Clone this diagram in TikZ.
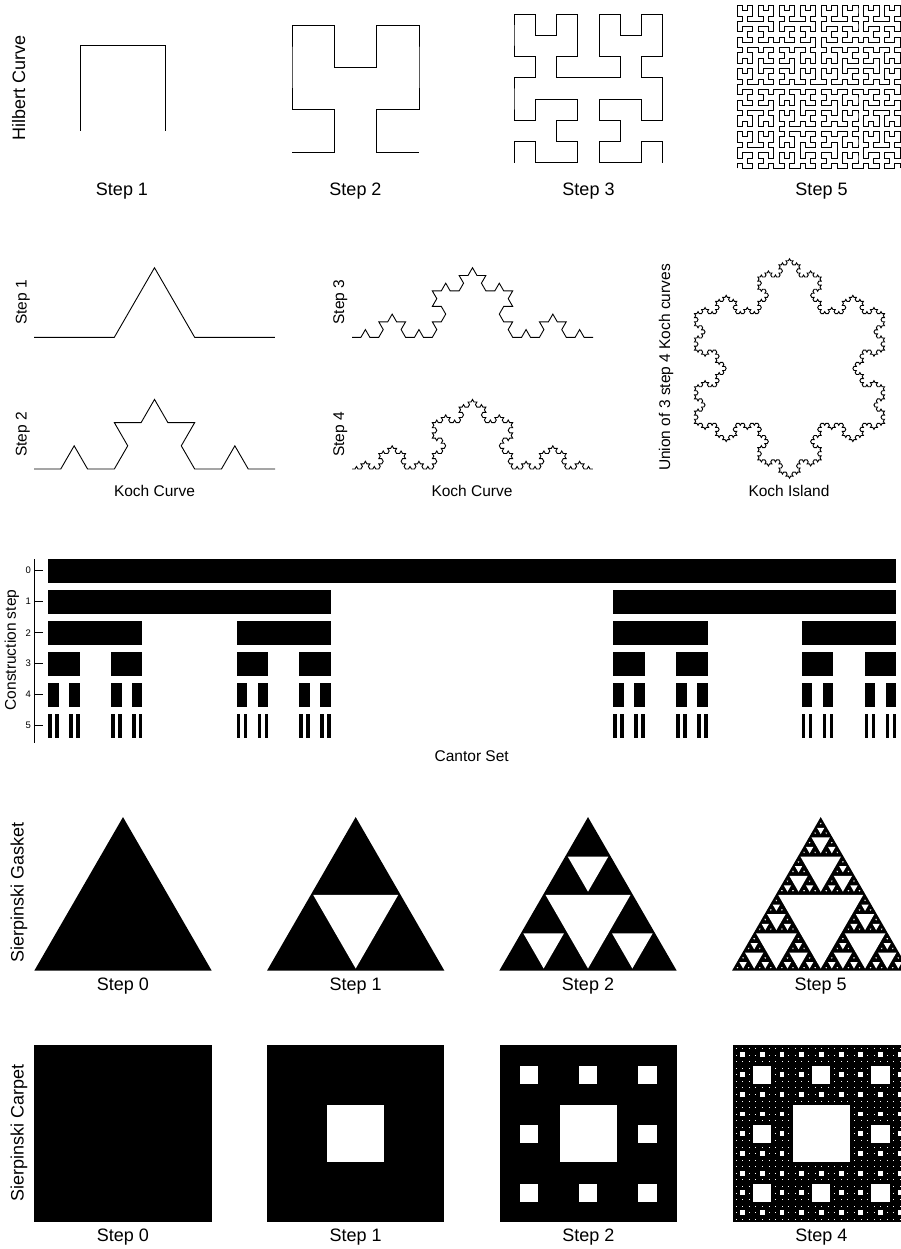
\documentclass[tikz,border=0pt]{standalone}
\usepackage{fontspec}
\setmainfont{Liberation Sans}
\usetikzlibrary{lindenmayersystems}
\pgfdeclarelindenmayersystem{Hilbert}{
  \rule{L -> +RF-LFL-FR+}
  \rule{R -> -LF+RFR+FL-}}
\pgfdeclarelindenmayersystem{KochC}{
  \rule{F -> F+F--F+F}}
\newcommand\cantorbar[3]{%
  \pgfmathsetmacro\cy{559.3+31*#1}%
  \fill (#2,\cy) rectangle ++(#3,24);%
  \ifnum#1<5\relax
    \pgfmathsetmacro\cw{#3/3}%
    \pgfmathsetmacro\cx{#2+2*#3/3}%
    \edef\cnext{\noexpand\cantorbar{\the\numexpr#1+1\relax}{#2}{\cw}\noexpand\cantorbar{\the\numexpr#1+1\relax}{\cx}{\cw}}%
    \cnext
  \fi}
% white hole of a gasket, shrunk toward its centroid by an inset of 1.1
\newcommand\gasketholes[4]{% level, x, ybase, s
  \ifnum#1>0\relax
    \pgfmathsetmacro\ga{#2+#4/4}%
    \pgfmathsetmacro\gb{#2+3*#4/4}%
    \pgfmathsetmacro\gc{#2+#4/2}%
    \pgfmathsetmacro\gy{#3-0.4330127*#4}%
    \pgfmathsetmacro\gs{#4/2}%
    \pgfmathsetmacro\gyc{(2*\gy+#3)/3}%
    \pgfmathsetmacro\gk{1-1.1*3.4641/\gs}%
    \ifdim\gk pt>0pt
      \fill[white, scale around={\gk:(\gc,\gyc)}] (\ga,\gy) -- (\gb,\gy) -- (\gc,#3) -- cycle;%
    \fi
    \edef\gnext{\noexpand\gasketholes{\the\numexpr#1-1\relax}{#2}{#3}{\gs}%
      \noexpand\gasketholes{\the\numexpr#1-1\relax}{\gc}{#3}{\gs}%
      \noexpand\gasketholes{\the\numexpr#1-1\relax}{\ga}{\gy}{\gs}}%
    \gnext
  \fi}
% white hole of a carpet, inset by 0.8
\newcommand\carpetholes[4]{% level, x, ytop, s
  \ifnum#1>0\relax
    \pgfmathsetmacro\ct{#4/3}%
    \pgfmathsetmacro\chw{\ct-1.6}%
    \ifdim\chw pt>0pt
      \fill[white] (#2+\ct+0.8,#3+\ct+0.8) rectangle ++(\chw,\chw);%
    \fi
    \ifnum#1>1\relax
      \foreach \ci/\cj in {0/0,1/0,2/0,0/1,2/1,0/2,1/2,2/2}{%
        \pgfmathsetmacro\cxx{#2+\ci*\ct}%
        \pgfmathsetmacro\cyy{#3+\cj*\ct}%
        \edef\cnextc{\noexpand\carpetholes{\the\numexpr#1-1\relax}{\cxx}{\cyy}{\ct}}%
        \cnextc
      }%
    \fi
  \fi}
\begin{document}
\begin{tikzpicture}[x=1pt,y=-1pt,
  lbl/.style={font=\fontsize{18}{20}\selectfont, inner sep=0pt, anchor=base},
  slbl/.style={font=\fontsize{15.5}{18}\selectfont, inner sep=0pt, anchor=base},
  tlbl/.style={font=\fontsize{9.5}{11}\selectfont, inner sep=0pt},
  curve/.style={line width=0.9pt, line join=miter}]
\useasboundingbox (0,0) rectangle (901,1249);
\fill[white] (0,0) rectangle (901,1249);
\clip (0,0) rectangle (901,1249);

% ---------------- Hilbert ----------------
\node[lbl, rotate=90] (hilT) at (25,87.5) {Hilbert Curve};
\begin{scope}[shift={(80,131)}]
\draw[curve, lindenmayer system={Hilbert, axiom=L, order=1, step=85.5pt, angle=90}] (0,0) lindenmayer system;
\end{scope}
\begin{scope}[shift={(292,152)}]
\draw[curve, lindenmayer system={Hilbert, axiom=L, order=2, step=42.33pt, angle=90}] (0,0) lindenmayer system;
\end{scope}
\begin{scope}[shift={(514,162.7)}]
\draw[curve, lindenmayer system={Hilbert, axiom=L, order=3, step=21.24pt, angle=90}] (0,0) lindenmayer system;
\end{scope}
\begin{scope}[shift={(737,168.5)}]
\draw[curve, line width=0.9pt, lindenmayer system={Hilbert, axiom=L, order=5, step=5.26pt, angle=90}] (0,0) lindenmayer system;
\end{scope}
\node[lbl] (hs1) at (122,195.7) {Step 1};
\node[lbl] (hs2) at (355.5,195.7) {Step 2};
\node[lbl] (hs3) at (588.5,195.7) {Step 3};
\node[lbl] (hs5) at (821.5,195.7) {Step 5};

% ---------------- Koch ----------------
\begin{scope}[shift={(34,337.3)}]
\draw[curve, lindenmayer system={KochC, axiom=F, order=1, step=80.33pt, angle=60}] (0,0) lindenmayer system;
\end{scope}
\begin{scope}[shift={(34,469)}]
\draw[curve, lindenmayer system={KochC, axiom=F, order=2, step=26.78pt, angle=60}] (0,0) lindenmayer system;
\end{scope}
\begin{scope}[shift={(352,337.3)}]
\draw[curve, lindenmayer system={KochC, axiom=F, order=3, step=8.926pt, angle=60}] (0,0) lindenmayer system;
\end{scope}
\begin{scope}[shift={(352,469)}]
\draw[curve, lindenmayer system={KochC, axiom=F, order=4, step=2.975pt, angle=60}] (0,0) lindenmayer system;
\end{scope}
\begin{scope}[shift={(694.5,313.6)}]
\draw[curve, lindenmayer system={KochC, axiom=F--F--F, order=4, step=2.3457pt, angle=60}] (0,0) lindenmayer system -- cycle;
\end{scope}
\node[slbl, rotate=90] (k1) at (26.5,302.5) {Step 1};
\node[slbl, rotate=90] (k2) at (26.5,434.5) {Step 2};
\node[slbl, rotate=90] (k3) at (344,302) {Step 3};
\node[slbl, rotate=90] (k4) at (344,434.5) {Step 4};
\node[slbl, rotate=90] (ku) at (670,367.5) {Union of 3 step 4 Koch curves};
\node[slbl] (kc1) at (154.5,496.5) {Koch Curve};
\node[slbl] (kc2) at (472,496.5) {Koch Curve};
\node[slbl] (ki) at (789,496.5) {Koch Island};

% ---------------- Cantor ----------------
\cantorbar{0}{48.3}{847.7}
\draw[line width=1pt] (34,559) -- (34,743);
\foreach \k in {0,...,5}{
  \draw[line width=0.9pt] (34,570.7+31*\k) -- (43,570.7+31*\k);
  \node[tlbl] (ct\k) at (28.3,570.7+31*\k) {\k};
}
\node[slbl, rotate=90] (cy) at (16,650) {Construction step};
\node[slbl] (cs) at (471.7,761) {Cantor Set};

% ---------------- Sierpinski gasket ----------------
\foreach \gx/\gl in {34.3/0, 267/1, 499.3/2, 732/5}{
  \fill (\gx,970.7) -- ++(177.4,0) -- ++(-88.7,-153.63) -- cycle;
  \gasketholes{\gl}{\gx}{970.7}{177.4}
}
\node[lbl] (g0) at (123,990) {Step 0};
\node[lbl] (g1) at (355.7,990) {Step 1};
\node[lbl] (g2) at (588,990) {Step 2};
\node[lbl] (g5) at (820.7,990) {Step 5};
\node[lbl, rotate=90] (gT) at (23.5,892.5) {Sierpinski Gasket};

% ---------------- Sierpinski carpet ----------------
\foreach \sx/\sl in {34.3/0, 267/1, 499.7/2, 732.7/4}{
  \fill (\sx,1045) rectangle ++(177.4,177.4);
  \carpetholes{\sl}{\sx}{1045}{177.4}
}
\node[lbl] (c0) at (123,1241) {Step 0};
\node[lbl] (c1) at (355.7,1241) {Step 1};
\node[lbl] (c2) at (588.4,1241) {Step 2};
\node[lbl] (c4) at (821.4,1241) {Step 4};
\node[lbl, rotate=90] (cT) at (23.5,1132.5) {Sierpinski Carpet};
\end{tikzpicture}
\end{document}
